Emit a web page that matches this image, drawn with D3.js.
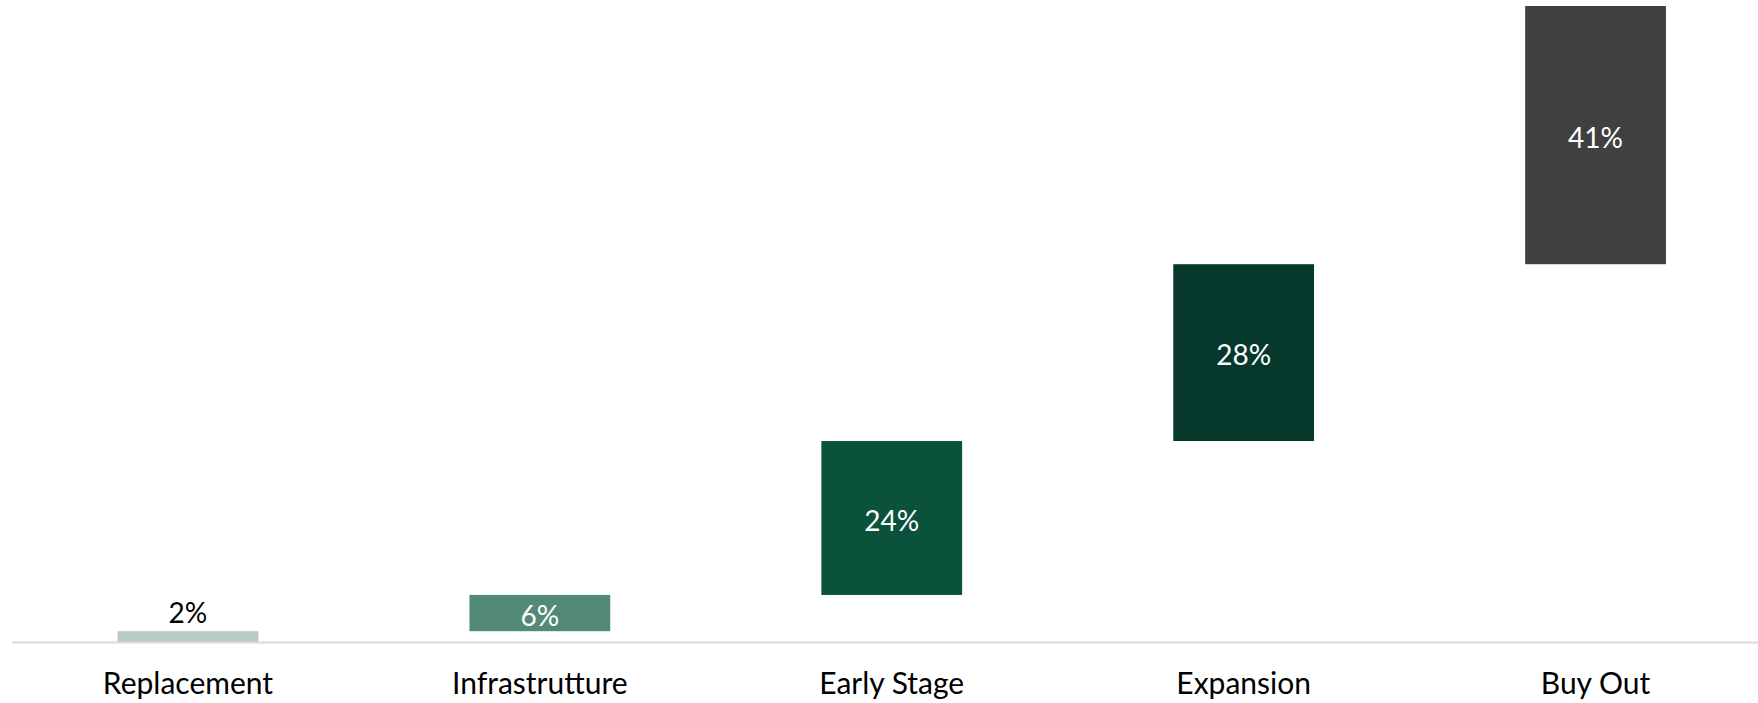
<!DOCTYPE html>
<html>
<head>
<meta charset="utf-8">
<script src="https://cdn.jsdelivr.net/npm/d3@7"></script>
<style>
  html, body { margin: 0; padding: 0; background: #ffffff; }
  svg { display: block; }
</style>
</head>
<body>
<svg id="chart" width="1758" height="703"></svg>
<script>
// ---- data ----
const categories = ["Replacement", "Infrastrutture", "Early Stage", "Expansion", "Buy Out"];
const values = [1.7, 5.7, 24.2, 27.8, 40.6];
const valueLabels = ["2%", "6%", "24%", "28%", "41%"];
const barColors = ["#b5cbc3", "#538a77", "#0b523d", "#07382c", "#404040"];
const labelColors = ["#000000", "#ffffff", "#ffffff", "#ffffff", "#ffffff"];

// waterfall cumulative
const rows = [];
let acc = 0;
categories.forEach((c, i) => {
  rows.push({ cat: c, start: acc, end: acc + values[i], label: valueLabels[i], color: barColors[i], lc: labelColors[i], outside: i === 0 });
  acc += values[i];
});

const W = 1758, H = 703;
const svg = d3.select("#chart");
const font = "Lato, 'Open Sans', sans-serif";

const x = d3.scaleBand().domain(categories).range([12, 1771.5]).paddingInner(0.6).paddingOuter(0.3);
const y = d3.scaleLinear().domain([0, 100]).range([642, 6]);

// bars
svg.append("g").selectAll("rect").data(rows).join("rect")
  .attr("x", d => x(d.cat))
  .attr("width", x.bandwidth())
  .attr("y", d => y(d.end))
  .attr("height", d => y(d.start) - y(d.end))
  .attr("fill", d => d.color);

// axis line
svg.append("line")
  .attr("x1", 12).attr("x2", W)
  .attr("y1", y(0) + 0.5).attr("y2", y(0) + 0.5)
  .attr("stroke", "#d9d9d9").attr("stroke-width", 2);

// category labels
const xAxis = d3.axisBottom(x).tickSize(0).tickPadding(0);
const gx = svg.append("g").attr("transform", `translate(0, ${y(0)})`).call(xAxis);
gx.select(".domain").remove();
gx.selectAll("text")
  .attr("y", 52)
  .attr("dy", 0)
  .attr("font-family", font)
  .attr("font-size", 30)
  .attr("fill", "#000");

// value labels
svg.append("g").selectAll("text").data(rows).join("text")
  .attr("x", d => x(d.cat) + x.bandwidth() / 2)
  .attr("y", d => d.outside ? y(d.end) - 8 : (y(d.start) + y(d.end)) / 2)
  .attr("dy", d => d.outside ? 0 : "0.45em")
  .attr("text-anchor", "middle")
  .attr("font-family", font)
  .attr("font-size", 28)
  .attr("fill", d => d.lc)
  .text(d => d.label);
</script>
</body>
</html>
